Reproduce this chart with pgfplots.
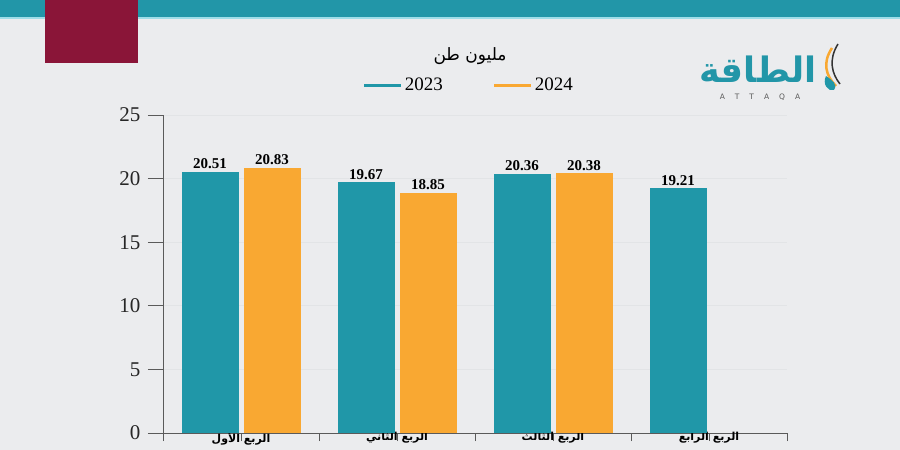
\documentclass[border=0pt]{standalone}
\usepackage{fontspec}
\setmainfont{Liberation Serif}
\newfontfamily\arabicfont[Script=Arabic]{DejaVu Sans}
\newfontfamily\latinsans{DejaVu Sans}
\TeXXeTstate=1
\usepackage{pgfplots}
\pgfplotsset{compat=1.18}
\definecolor{bg}{HTML}{EBECEE}
\definecolor{tealbar}{HTML}{2097A8}
\definecolor{orangebar}{HTML}{F9A832}
\definecolor{banner}{HTML}{2296A8}
\definecolor{bannerline}{HTML}{9FDDE8}
\definecolor{maroon}{HTML}{8A1538}
\definecolor{axisgray}{HTML}{5A5A5A}
\definecolor{gridgray}{HTML}{E2E4E6}
\begin{document}
\begin{tikzpicture}
\fill[bg] (0pt,0pt) rectangle (900pt,450pt);
\fill[banner] (0pt,433pt) rectangle (900pt,450pt);
\fill[bannerline] (0pt,430.5pt) rectangle (900pt,433pt);
\fill[maroon] (45pt,387pt) rectangle (138pt,450pt);
% logo
\node[text=banner, font=\arabicfont\bfseries\fontsize{35}{38}\selectfont, inner sep=0pt] at (758pt,381pt) {\beginR الطاقة\endR};
\node[text=axisgray, font=\latinsans\fontsize{7.5}{8}\selectfont, inner sep=0pt] at (760pt,353pt) {A\hspace{10pt}T\hspace{10pt}T\hspace{10pt}A\hspace{10pt}Q\hspace{10pt}A};
\draw[orangebar, line width=2.5pt] (832pt,402pt) .. controls (822pt,387pt) and (826pt,374pt) .. (836pt,364pt);
\draw[black!80, line width=1.5pt] (838pt,406pt) .. controls (828pt,390pt) and (832pt,376pt) .. (840pt,366pt);
\fill[tealbar] (826pt,374pt) .. controls (822pt,366pt) and (828pt,358pt) .. (834pt,360pt) .. controls (838pt,366pt) and (832pt,370pt) .. (826pt,374pt) -- cycle;
% title
\node[font=\arabicfont\fontsize{17}{20}\selectfont, text=black] at (470pt,394pt) {\beginR مليون طن\endR};
\begin{axis}[
  at={(163pt,17pt)}, anchor=south west,
  scale only axis, width=624pt, height=318pt,
  xmin=-0.5, xmax=3.5, ymin=0, ymax=25,
  ytick={0,5,...,25},
  xtick={-0.5,0.5,1.5,2.5,3.5},
  xticklabels={},
  extra x ticks={0,1,2,3},
  extra x tick labels={{\arabicfont\bfseries\beginR الربع الأول\endR},{\arabicfont\bfseries\beginR الربع الثاني\endR},{\arabicfont\bfseries\beginR الربع الثالث\endR},{\arabicfont\bfseries\beginR الربع الرابع\endR}},
  extra x tick style={major tick length=0pt, tick label style={font=\fontsize{11}{12}\selectfont, inner sep=1pt, yshift=2pt}},
  axis x line*=bottom, axis y line*=left,
  axis line style={axisgray, line width=0.8pt, -},
  tick style={axisgray, line width=0.8pt},
  tick align=outside,
  major tick length=15pt,
  xtick style={/pgfplots/major tick length=8pt},
  ymajorgrids, grid style={gridgray, line width=0.6pt},
  yticklabel style={font=\fontsize{21}{23}\selectfont, text=black!85, xshift=-4pt},
  /pgf/number format/assume math mode=true,
  ybar=6pt, bar width=56pt,
  nodes near coords,
  nodes near coords style={font=\bfseries\fontsize{15}{17}\selectfont, text=black, /pgf/number format/.cd, fixed, precision=2, fixed zerofill, assume math mode=true},
  legend style={at={(0.49,1.094)}, anchor=center, draw=none, fill=none, font=\fontsize{19}{21}\selectfont, legend columns=2, /tikz/every even column/.append style={column sep=48pt}},
  legend image code/.code={\draw[#1, line width=3pt, fill=none] (0pt,0pt) -- (37pt,0pt);},
]
\addplot[fill=tealbar, draw=tealbar, line width=0pt] coordinates {(0,20.51) (1,19.67) (2,20.36) (3,19.21)};
\addplot[fill=orangebar, draw=orangebar, line width=0pt] coordinates {(0,20.83) (1,18.85) (2,20.38)};
\legend{2023,2024}
\end{axis}
\pgfresetboundingbox
\path[use as bounding box] (0pt,0pt) rectangle (900pt,450pt);
\end{tikzpicture}
\end{document}
